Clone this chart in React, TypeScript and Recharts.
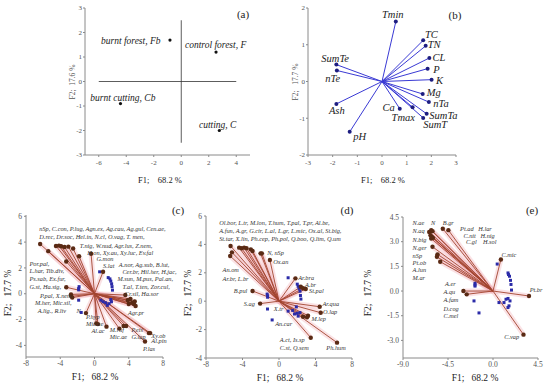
import React from 'react';
import { ScatterChart, Scatter, XAxis, YAxis, ReferenceLine } from 'recharts';

const FONT = '"Liberation Serif", "DejaVu Serif", serif';

// ---------- Panel (a): sites ----------
const sitesA = [
  { x: -0.82, y: 1.69 },
  { x: 2.53, y: 1.2 },
  { x: -4.42, y: -0.9 },
  { x: 2.77, y: -2.0 },
];
const labelsA = [
  { text: 'burnt forest, Fb', x: -5.84, y: 1.64 },
  { text: 'control forest, F', x: 0.27, y: 1.47 },
  { text: 'burnt cutting, Cb', x: -6.62, y: -0.67 },
  { text: 'cutting, C', x: 1.29, y: -1.76 },
];
const xTicksA = [-6, -4, -2, 0, 2, 4];
const yTicksA = [-3, -2, -1, 0, 1, 2, 3];

// ---------- Panel (b): soil / fire variables ----------
const varNamesB = ['Tmin', 'TC', 'TN', 'CL', 'P', 'K', 'Mg', 'nTa', 'SumTa', 'SumT', 'Tmax', 'Ca', 'SumTe', 'nTe', 'Ash', 'pH'];
const varXB = [0.56, 1.67, 1.77, 1.92, 1.85, 2.01, 1.65, 1.9, 1.81, 1.67, 1.24, 0.72, -1.85, -1.83, -1.85, -1.31];
const varYB = [1.63, 1.12, 0.97, 0.64, 0.35, 0.05, -0.34, -0.56, -0.88, -0.99, -0.7, -0.74, 0.46, 0.3, -0.61, -1.37];
const labelsB = [
  { text: 'Tmin', x: 0.0, y: 1.82 },
  { text: 'TC', x: 1.74, y: 1.29 },
  { text: 'TN', x: 1.85, y: 1.02 },
  { text: 'CL', x: 2.05, y: 0.66 },
  { text: 'P', x: 2.08, y: 0.34 },
  { text: 'K', x: 2.19, y: 0.03 },
  { text: 'Mg', x: 1.81, y: -0.3 },
  { text: 'nTa', x: 2.08, y: -0.61 },
  { text: 'SumTa', x: 1.92, y: -0.92 },
  { text: 'SumT', x: 1.67, y: -1.18 },
  { text: 'Tmax', x: 0.39, y: -0.99 },
  { text: 'Ca', x: 0.02, y: -0.72 },
  { text: 'SumTe', x: -2.46, y: 0.62 },
  { text: 'nTe', x: -2.3, y: 0.08 },
  { text: 'Ash', x: -2.15, y: -0.8 },
  { text: 'pH', x: -1.17, y: -1.49 },
];
const xTicksB = [-3, -2, -1, 0, 1, 2, 3];
const yTicksB = [-2, -1, 0, 1, 2];

// ---------- Panel (c): species vectors ----------
const vecXC = [-6.35, -5.4, -4.5, -4.15, -3.9, -3.5, -3.05, -2.5, -3.3, -1.8, -0.4, 1.0, -3.3, -2.75, -2.7, -2.6, -1.0, 0.2, 0.4, 1.4, 2.9, 3.4, 3.7, 6.35, 6.5, 5.9, 3.6, 3.9, 4.2, 4.4, 4.6, 4.8, 4.0, 4.7];
const vecYC = [3.85, 3.3, 3.7, 3.73, 3.68, 3.62, 3.65, 3.5, 2.5, 2.9, 3.1, 1.7, 0.5, -0.05, -0.2, -0.3, -1.5, -2.3, -2.35, -2.55, -2.7, -2.5, -2.5, -3.05, -3.05, -3.7, -0.1, -0.5, -0.4, -0.7, -0.8, -0.95, -0.8, -0.6];
const siteXC = [0.6, 1.6, 1.8, 1.9, 2.0, 2.05, 2.1, -1.8, -1.85, -1.85, -1.85, -1.55, 0.75, 1.0, 1.3, 1.7, 1.98, 1.9, 1.5];
const siteYC = [1.7, 1.25, 1.15, 0.98, 0.77, 0.55, 0.28, 0.55, 0.4, 0.3, -0.5, -1.45, -0.5, -0.62, -0.7, -0.77, -0.62, -0.45, -0.9];
const labelsC = [
  { text: 'nSp, C.con, P.lug, Agn.ex, Ag.cau, Ag.gul, Cen.ae,', x: -6.45, y: 5.05 },
  { text: 'D.rec, Dr.soc, Hel.in, N.cl, O.vag, T. men,', x: -6.45, y: 4.4 },
  { text: 'T.nig, W.nud, Agr.lus, Z.nem,', x: -1.71, y: 3.76 },
  { text: 'H.on, Xy.au, Xy.luc, Ev.fal', x: -0.85, y: 3.19 },
  { text: 'G.mon', x: 0.23, y: 2.7 },
  { text: 'S.lat', x: 1.0, y: 2.19 },
  { text: 'A.nor, Ag.sub, B.lut,', x: 2.84, y: 2.27 },
  { text: 'Cer.br, Hil.her, H.jac,', x: 3.26, y: 1.7 },
  { text: 'M.sun, M.pus, Pal.an,', x: 2.68, y: 1.16 },
  { text: 'T.al, T.ten, Zor.cul,', x: 3.26, y: 0.59 },
  { text: 'Cr.sil, Ha.sor', x: 3.53, y: 0.05 },
  { text: 'Por.pal,', x: -7.6, y: 2.35 },
  { text: 'L.har, Tib.div,', x: -7.6, y: 1.78 },
  { text: 'Ps.sab, Ex.fur,', x: -7.6, y: 1.16 },
  { text: 'G.st, Ha.sig,', x: -7.6, y: 0.59 },
  { text: 'P.pal, X.nem,', x: -6.37, y: -0.1 },
  { text: 'M.her, Mic.sil,', x: -6.95, y: -0.67 },
  { text: 'A.lig., R.liv', x: -6.64, y: -1.29 },
  { text: 'N', x: -2.1, y: -1.29 },
  { text: 'P.hyp', x: -1.0, y: -1.8 },
  { text: 'Mic.ae', x: -1.0, y: -2.32 },
  { text: 'Al.ac', x: -0.35, y: -2.84 },
  { text: 'M.ruf', x: 1.79, y: -2.76 },
  { text: 'Mic.ae', x: 1.79, y: -3.35 },
  { text: 'P.eis', x: 4.31, y: -2.79 },
  { text: 'G.lap', x: 4.31, y: -3.35 },
  { text: 'Agr.pr', x: 3.92, y: -1.47 },
  { text: 'Xy.ob', x: 6.64, y: -3.2 },
  { text: 'Al.pin', x: 6.64, y: -3.66 },
  { text: 'P.las', x: 5.67, y: -4.23 },
];

// ---------- Panel (d) ----------
const vecXD = [-5.31, -5.16, -5.35, -4.37, -4.1, -3.82, -3.56, -3.09, -2.9, -2.02, -1.88, -1.0, 1.8, 2.39, 2.64, 2.93, -2.9, -2.07, 4.46, 4.57, 2.64, 3.07, 3.18, 3.48, 6.36];
const vecYD = [3.89, 3.44, 3.18, 3.77, 3.73, 3.77, 3.73, 3.65, 3.54, 3.37, 3.37, 2.9, 1.61, 1.02, 0.91, 0.86, 0.72, -0.17, -0.39, -0.81, -1.09, -1.13, -1.02, -2.57, -2.92];
const siteXD = [1.0, 2.0, 2.1, 2.2, 2.3, 2.35, 2.4, -1.3, -1.25, -1.25, -1.26, -0.75, 1.0, 1.5, 1.9, 2.0, 2.1, 2.3, 1.7];
const siteYD = [1.65, 1.2, 1.05, 0.9, 0.7, 0.4, 0.15, 0.5, 0.38, 0.28, -0.55, -1.32, -0.7, -0.65, -0.4, -0.85, -1.05, -0.8, -0.9];
const labelsD = [
  { text: 'Ol.bor, L.tr, M.lon, T.hum, T.pal, T.pr, Al.be,', x: -6.55, y: 5.55 },
  { text: 'A.fun, A.gr, G.cir, L.al, L.gr, L.mic, Ox.al, St.big,', x: -6.55, y: 4.97 },
  { text: 'St.tar, X.lin, Ph.cep, Ph.pol, Q.boo, Q.lim, Q.um', x: -6.55, y: 4.43 },
  { text: 'N, nSp', x: -1.3, y: 3.42 },
  { text: 'Ox.an', x: -0.64, y: 2.83 },
  { text: 'An.om', x: -6.18, y: 2.2 },
  { text: 'Ar.br, L.br', x: -6.18, y: 1.61 },
  { text: 'B.pul', x: -4.95, y: 0.72 },
  { text: 'S.ag', x: -3.85, y: -0.18 },
  { text: 'X.tr', x: -0.57, y: -0.5 },
  { text: 'An.car', x: -0.42, y: -1.56 },
  { text: 'Ar.bra', x: 2.1, y: 1.64 },
  { text: 'A.br', x: 2.85, y: 1.18 },
  { text: 'St.pal', x: 3.3, y: 0.74 },
  { text: 'Ar.qua', x: 4.76, y: -0.18 },
  { text: 'O.lap', x: 4.83, y: -0.74 },
  { text: 'M.lep', x: 3.55, y: -1.2 },
  { text: 'A.ct, Is.sp', x: 0.09, y: -2.68 },
  { text: 'C.st, Q.sem', x: 0.09, y: -3.25 },
  { text: 'Ph.hum', x: 5.19, y: -3.25 },
];

// ---------- Panel (e) ----------
const vecXE = [-6.38, -6.18, -6.05, -6.25, -6.11, -6.18, -6.01, -6.05, -5.55, -5.61, -5.28, -5.02, -4.46, 0.79, 3.6, 3.05, -2.96, -2.63];
const vecYE = [3.59, 3.7, 3.64, 3.39, 3.29, 3.19, 3.23, 2.69, 2.23, 2.08, 1.78, 3.79, 3.7, 1.92, -0.3, -2.65, 0.0, -0.2];
const siteXE = [0.42, 1.5, 1.55, 1.65, 1.75, 1.8, 1.85, -1.8, -1.8, -1.8, -1.9, -1.4, 0.6, 1.1, 1.5, 1.7, 1.6, 1.5, 1.3];
const siteYE = [1.64, 1.1, 1.0, 0.9, 0.65, 0.4, 0.06, 0.47, 0.37, 0.3, -0.6, -1.33, -0.7, -0.7, -0.45, -0.6, -0.9, -1.0, -0.5];
const labelsE = [
  { text: 'N.ae', x: -8.04, y: 4.16 },
  { text: 'N', x: -6.21, y: 4.16 },
  { text: 'B.gr', x: -5.02, y: 4.16 },
  { text: 'N.aq', x: -8.04, y: 3.65 },
  { text: 'N.big', x: -8.04, y: 3.15 },
  { text: 'N.ger', x: -8.04, y: 2.65 },
  { text: 'nSp', x: -8.04, y: 2.14 },
  { text: 'Pt.ob', x: -8.04, y: 1.72 },
  { text: 'A.lun', x: -8.04, y: 1.28 },
  { text: 'M.ar', x: -8.04, y: 0.81 },
  { text: 'Pt.ad   H.lar', x: -3.29, y: 3.8 },
  { text: 'C.nit   H.nig', x: -2.96, y: 3.39 },
  { text: 'C.gl    H.sol', x: -2.7, y: 2.99 },
  { text: 'C.mic', x: 0.85, y: 2.22 },
  { text: 'Pt.br', x: 3.67, y: 0.11 },
  { text: 'A.er', x: -4.79, y: 0.47 },
  { text: 'A.qu', x: -4.95, y: -0.04 },
  { text: 'A.fam', x: -4.95, y: -0.54 },
  { text: 'D.cog', x: -4.95, y: -1.04 },
  { text: 'C.mel', x: -4.95, y: -1.49 },
  { text: 'C.vap', x: 1.12, y: -2.78 },
];

const toPts = (xs: number[], ys: number[]) => xs.map((x, i) => ({ x, y: ys[i] }));

const textShape = (size: number, color: string) => (props: any) => {
  const { cx, cy, payload } = props;
  return (
    <text x={cx} y={cy} fontSize={size} fontStyle="italic" fontFamily={FONT} fill={color}
      textAnchor={payload.anchor || 'start'} dominantBaseline="central" xmlSpace="preserve">{payload.text}</text>
  );
};
const dotShape = (r: number, color: string) => (props: any) => (
  <circle cx={props.cx} cy={props.cy} r={r} fill={color} />
);
const squareShape = (s: number, color: string) => (props: any) => (
  <rect x={props.cx - s / 2} y={props.cy - s / 2} width={s} height={s} fill={color} />
);

const axisCommon = (fs: number) => ({
  type: 'number' as const,
  axisLine: { stroke: '#8a8a8a' },
  tickLine: { stroke: '#8a8a8a' },
  tickSize: 2,
  tick: { fontSize: fs, fill: '#555', fontFamily: FONT },
});

function VectorPanel(props: {
  left: number; top: number; width: number; height: number;
  margin: any; yw: number; xh: number; xDomain: number[]; yDomain: number[]; xTicks: number[]; yTicks: number[];
  fmt?: (v: number) => string;
  vecs: { x: number; y: number }[]; sites: { x: number; y: number }[]; labels: any[];
}) {
  const { left, top, width, height, margin, yw, xh, xDomain, yDomain, xTicks, yTicks, fmt, vecs, sites, labels } = props;
  return (
    <div style={{ position: 'absolute', left, top }}>
      <ScatterChart width={width} height={height} margin={margin}>
        <XAxis dataKey="x" {...axisCommon(7.5)} domain={xDomain} ticks={xTicks} height={xh} tickMargin={2} tickFormatter={fmt} />
        <YAxis dataKey="y" {...axisCommon(7.5)} domain={yDomain} ticks={yTicks} width={yw} tickMargin={2} tickFormatter={fmt} />
        {vecs.map((v, i) => (
          <ReferenceLine key={'h' + i} segment={[{ x: 0, y: 0 }, { x: v.x, y: v.y }]} stroke="#f3b6bf" strokeOpacity={0.4} strokeWidth={5} ifOverflow="visible" />
        ))}
        {vecs.map((v, i) => (
          <ReferenceLine key={'l' + i} segment={[{ x: 0, y: 0 }, { x: v.x, y: v.y }]} stroke="#a3442f" strokeWidth={0.9} ifOverflow="visible" />
        ))}
        <Scatter data={sites} isAnimationActive={false} shape={squareShape(3, '#2b2ba8')} />
        <Scatter data={vecs} isAnimationActive={false} shape={dotShape(2.2, '#5a2a14')} />
        <Scatter data={labels} isAnimationActive={false} shape={textShape(6.3, '#333')} />
      </ScatterChart>
    </div>
  );
}

const fmt1 = (v: number) => v.toFixed(1);

export default function App() {
  const vecsB = varXB.map((x, i) => ({ x, y: varYB[i], name: varNamesB[i] }));
  return (
    <div style={{ position: 'absolute', left: 0, top: 0, width: 550, height: 388, background: '#fff', fontFamily: FONT }}>
      {/* (a) */}
      <div style={{ position: 'absolute', left: 0, top: 0 }}>
        <ScatterChart width={275} height={195} margin={{ top: 8, right: 25, bottom: 20, left: 65 }}>
          <XAxis dataKey="x" {...axisCommon(7)} domain={[-7, 5]} ticks={xTicksA} height={20} tickMargin={3} />
          <YAxis dataKey="y" {...axisCommon(7)} domain={[-3, 3]} ticks={yTicksA} width={20} tickMargin={1} />
          <ReferenceLine segment={[{ x: -6, y: 0 }, { x: 4, y: 0 }]} stroke="#333" strokeWidth={0.8} />
          <ReferenceLine segment={[{ x: 0, y: -2.5 }, { x: 0, y: 2.5 }]} stroke="#333" strokeWidth={0.8} />
          <Scatter data={sitesA} isAnimationActive={false} shape={dotShape(1.6, '#111')} />
          <Scatter data={labelsA} isAnimationActive={false} shape={textShape(9.5, '#222')} />
        </ScatterChart>
      </div>
      {/* (b) */}
      <div style={{ position: 'absolute', left: 275, top: 0 }}>
        <ScatterChart width={275} height={195} margin={{ top: 8, right: 94, bottom: 20, left: 13 }}>
          <XAxis dataKey="x" {...axisCommon(7)} domain={[-3, 3]} ticks={xTicksB} height={20} tickMargin={3} />
          <YAxis dataKey="y" {...axisCommon(7)} domain={[-2, 2]} ticks={yTicksB} width={20} tickMargin={1} />
          {vecsB.map((v, i) => (
            <ReferenceLine key={i} segment={[{ x: 0, y: 0 }, { x: v.x, y: v.y }]} stroke="#3a3ad4" strokeWidth={1} />
          ))}
          <Scatter data={vecsB} isAnimationActive={false} shape={dotShape(2, '#1d1d80')} />
          <Scatter data={labelsB} isAnimationActive={false} shape={textShape(10.5, '#222')} />
        </ScatterChart>
      </div>
      <VectorPanel left={0} top={195} width={190} height={193}
        margin={{ top: 20, right: 27, bottom: 16, left: 11 }} yw={15} xh={15}
        xDomain={[-8, 8]} yDomain={[-4.9, 6.1]} xTicks={[-8, -4, 0, 4, 8]} yTicks={[-4, -2, 0, 2, 4, 6]}
        vecs={toPts(vecXC, vecYC)} sites={toPts(siteXC, siteYC)} labels={labelsC} />
      <VectorPanel left={180} top={195} width={190} height={193}
        margin={{ top: 21, right: 18, bottom: 15, left: 11 }} yw={15} xh={15}
        xDomain={[-8, 8]} yDomain={[-4, 6]} xTicks={[-8, -4, 0, 4, 8]} yTicks={[-4, -2, 0, 2, 4, 6]}
        vecs={toPts(vecXD, vecYD)} sites={toPts(siteXD, siteYD)} labels={labelsD} />
      <VectorPanel left={360} top={195} width={190} height={193}
        margin={{ top: 22, right: 12, bottom: 15, left: 23 }} yw={20} xh={15}
        xDomain={[-9, 4.5]} yDomain={[-4.07, 4.5]} xTicks={[-9, -4.5, 0, 4.5]} yTicks={[-3, -1.5, 0, 1.5, 3, 4.5]}
        fmt={fmt1}
        vecs={toPts(vecXE, vecYE)} sites={toPts(siteXE, siteYE)} labels={labelsE} />
      {/* titles */}
      <svg width={550} height={388} style={{ position: 'absolute', left: 0, top: 0, pointerEvents: 'none' }}>
        <g fontFamily={FONT} fill="#222">
          <text x={243} y={14} fontSize={11} textAnchor="middle" dominantBaseline="central">(a)</text>
          <text x={455} y={15} fontSize={11} textAnchor="middle" dominantBaseline="central">(b)</text>
          <text x={178} y={210} fontSize={11} textAnchor="middle" dominantBaseline="central">(c)</text>
          <text x={347} y={210} fontSize={11} textAnchor="middle" dominantBaseline="central">(d)</text>
          <text x={532} y={210} fontSize={11} textAnchor="middle" dominantBaseline="central">(e)</text>
          <text x={160} y={180} fontSize={8.5} textAnchor="middle" dominantBaseline="central" xmlSpace="preserve">F1;    68.2 %</text>
          <text x={383} y={180} fontSize={8.5} textAnchor="middle" dominantBaseline="central" xmlSpace="preserve">F1;    68.2 %</text>
          <text x={95} y={377} fontSize={9.5} textAnchor="middle" dominantBaseline="central" xmlSpace="preserve">F1;   68.2 %</text>
          <text x={280} y={378} fontSize={9.5} textAnchor="middle" dominantBaseline="central" xmlSpace="preserve">F1;   68.2 %</text>
          <text x={475} y={378} fontSize={9.5} textAnchor="middle" dominantBaseline="central" xmlSpace="preserve">F1;   68.2 %</text>
          <text x={72} y={82} fontSize={7.5} textAnchor="middle" dominantBaseline="central" transform="rotate(-90 72 82)" xmlSpace="preserve" fill="#555">F2;  17.6 %</text>
          <text x={295} y={82} fontSize={7.5} textAnchor="middle" dominantBaseline="central" transform="rotate(-90 295 82)" xmlSpace="preserve" fill="#555">F2;   17.7 %</text>
          <text x={8} y={293} fontSize={9.5} textAnchor="middle" dominantBaseline="central" transform="rotate(-90 8 293)" xmlSpace="preserve">F2;   17.7 %</text>
          <text x={188} y={293} fontSize={9.5} textAnchor="middle" dominantBaseline="central" transform="rotate(-90 188 293)" xmlSpace="preserve">F2;   17.7 %</text>
          <text x={368} y={293} fontSize={9.5} textAnchor="middle" dominantBaseline="central" transform="rotate(-90 368 293)" xmlSpace="preserve">F2;   17.7 %</text>
        </g>
      </svg>
    </div>
  );
}
